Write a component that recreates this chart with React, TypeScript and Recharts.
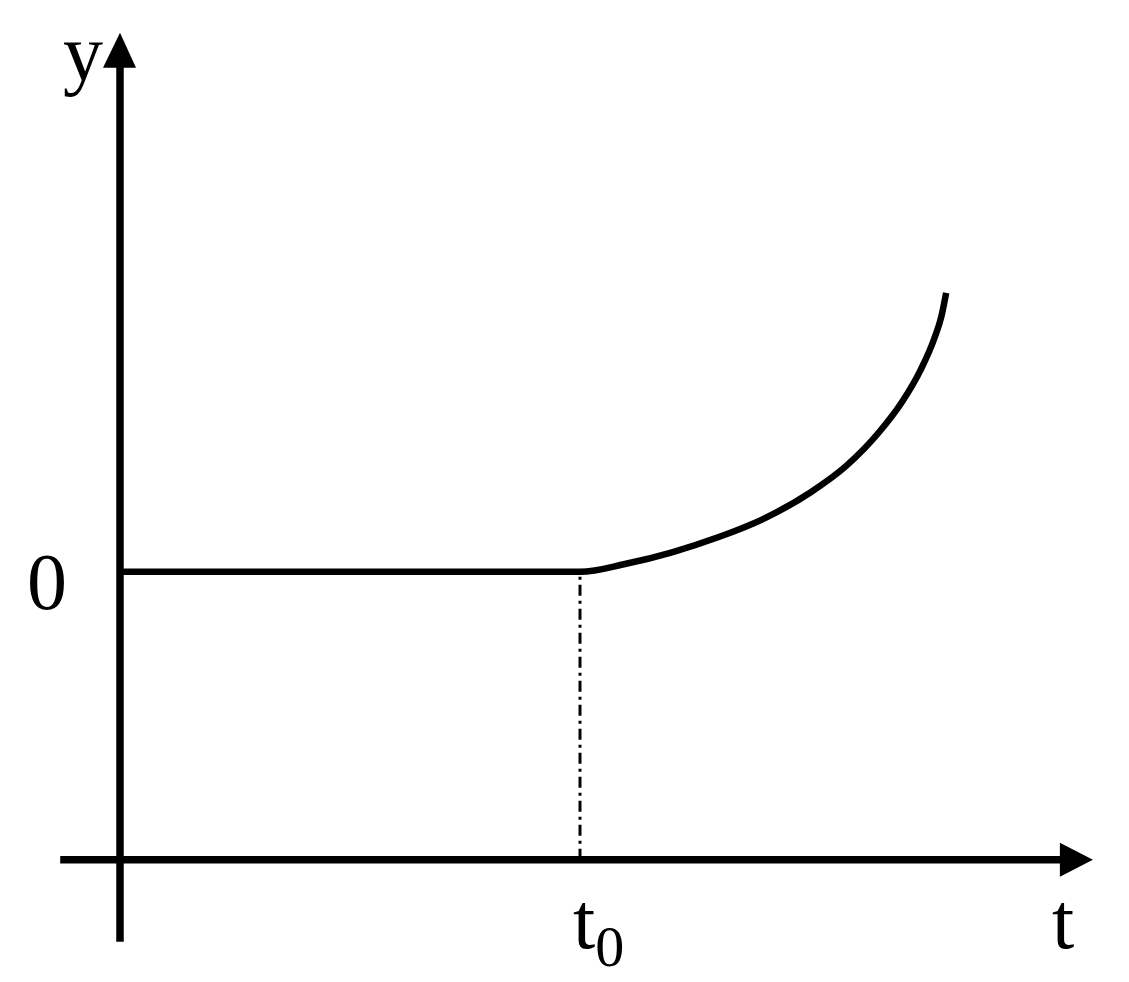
import { Line, LineChart, ReferenceDot, ReferenceLine, XAxis, YAxis } from 'recharts';

// curve y(t): flat at 0 until t0, then rising
const tValues = [0, 10, 11, 12, 13, 14, 15, 15.8, 16.5, 17.0, 17.4, 17.7, 17.86, 17.96];
const yValues = [0, 0, 0.28, 0.68, 1.2, 1.85, 2.75, 3.7, 4.85, 5.9, 7.0, 8.1, 8.9, 9.69];

const T0 = 10;
const T_AXIS_Y = -10;
const Y_AXIS_RANGE = [-12.85, 17.6];
const T_AXIS_RANGE = [-1.3, 20.5];
const Y_ARROW_TIP = 18.73;
const T_ARROW_TIP = 21.15;

const FONT = '"Liberation Serif", "Times New Roman", serif';

const data = tValues.map((t, i) => ({ t, y: yValues[i] }));

const UpArrow = ({ cx, cy }: any) => (
    <polygon points={`${cx},${cy} ${cx - 17},${cy + 35} ${cx + 16},${cy + 35}`} fill="#000" />
);

const RightArrow = ({ cx, cy }: any) => (
    <polygon points={`${cx},${cy} ${cx - 33},${cy - 17} ${cx - 33},${cy + 17}`} fill="#000" />
);

const textShape = (text: string, anchor: 'start' | 'middle' | 'end', sub?: string) => ({ cx, cy }: any) => (
    <text x={cx} y={cy} textAnchor={anchor} fontFamily={FONT} fontSize={80} fill="#000">
        {text}
        {sub && (
            <tspan fontSize={58} dy={18}>
                {sub}
            </tspan>
        )}
    </text>
);

const App = () => {
    return (
        <div style={{ position: 'absolute', left: 0, top: 0, background: '#fff' }}>
            <LineChart width={1129} height={982} data={data} margin={{ top: 25, right: 20, bottom: 36, left: 51 }}>
                <XAxis type="number" dataKey="t" domain={[-1.5, 21.5]} hide allowDataOverflow />
                <YAxis type="number" domain={[-13, 19]} hide allowDataOverflow />

                {/* coordinate axes */}
                <ReferenceLine
                    segment={[{ x: 0, y: Y_AXIS_RANGE[0] }, { x: 0, y: Y_AXIS_RANGE[1] }]}
                    stroke="#000"
                    strokeWidth={7.5}
                    ifOverflow="visible"
                />
                <ReferenceLine
                    segment={[{ x: T_AXIS_RANGE[0], y: T_AXIS_Y }, { x: T_AXIS_RANGE[1], y: T_AXIS_Y }]}
                    stroke="#000"
                    strokeWidth={7.5}
                    ifOverflow="visible"
                />
                <ReferenceDot x={0} y={Y_ARROW_TIP} r={0} shape={UpArrow} ifOverflow="visible" />
                <ReferenceDot x={T_ARROW_TIP} y={T_AXIS_Y} r={0} shape={RightArrow} ifOverflow="visible" />

                {/* t0 marker */}
                <ReferenceLine
                    segment={[{ x: T0, y: T_AXIS_Y }, { x: T0, y: 0 }]}
                    stroke="#000"
                    strokeWidth={3}
                    strokeDasharray="11 5 3 5"
                    ifOverflow="visible"
                />

                {/* labels */}
                <ReferenceDot x={-0.37} y={17.1} r={0} shape={textShape('y', 'end')} ifOverflow="visible" />
                <ReferenceDot x={-1.15} y={-1.29} r={0} shape={textShape('0', 'end')} ifOverflow="visible" />
                <ReferenceDot x={9.85} y={-13.06} r={0} shape={textShape('t', 'start', '0')} ifOverflow="visible" />
                <ReferenceDot x={20.5} y={-13.06} r={0} shape={textShape('t', 'middle')} ifOverflow="visible" />

                <Line
                    type="monotone"
                    dataKey="y"
                    stroke="#000"
                    strokeWidth={6.5}
                    dot={false}
                    activeDot={false}
                    isAnimationActive={false}
                />
            </LineChart>
        </div>
    );
};

export default App;
